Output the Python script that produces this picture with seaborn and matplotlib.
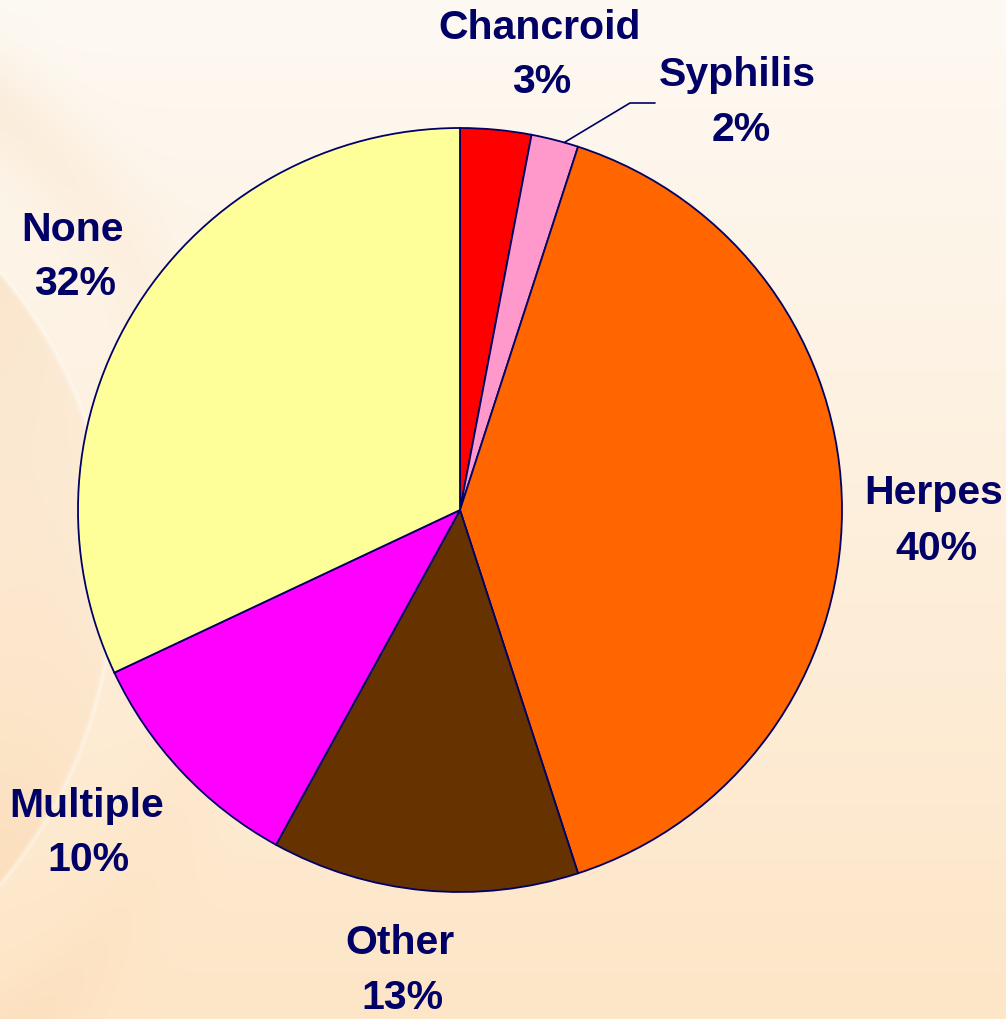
import numpy as np
import matplotlib
matplotlib.use("Agg")
import matplotlib.pyplot as plt
import seaborn as sns

# data
categories = ["Chancroid", "Syphilis", "Herpes", "Other", "Multiple", "None"]
values = [3, 2, 40, 13, 10, 32]
slice_colors = ["#FF0000", "#FF99CC", "#FF6600", "#663300", "#FF00FF", "#FFFF99"]

# label centres in pixels (name line, percent line)
label_pos = {
    "Chancroid": ((540, 28), (542, 82)),
    "Syphilis": ((737, 75), (741, 130)),
    "Herpes": ((934, 493), (936, 549)),
    "None": ((72, 230), (75, 284)),
    "Multiple": ((87, 806), (88, 860)),
    "Other": ((400, 943), (402, 998)),
}

W, H = 1006, 1019
NAVY = "#000066"

sns.set_theme(style="white")
plt.rcParams["font.family"] = ["Liberation Sans", "DejaVu Sans"]

fig = plt.figure(figsize=(W / 100, H / 100), dpi=100)

# background: cream to peach with soft arcs on the left
yy, xx = np.mgrid[0:H, 0:W].astype(float)
t = (yy / H)[..., None]
top = np.array([253, 249, 243]) / 255
bot = np.array([254, 230, 199]) / 255
bg = top * (1 - t) + bot * t
d = np.hypot(xx + 359, yy - 578)
warm = np.array([247, 208, 165]) / 255
inner = np.clip((d - 250) / 221, 0, 1) * (d < 471) * np.clip(1 - xx / 160, 0, 1)
band = np.exp(-((d - 590) / 45) ** 2) * 0.25 * np.clip(1 - xx / 260, 0, 1)
k = (0.4 * inner + band)[..., None]
bg = bg * (1 - k) + warm * k
line = np.exp(-((d - 471) / 2.5) ** 2)[..., None] * 0.35
bg = bg * (1 - line) + 1.0 * line
bgax = fig.add_axes([0, 0, 1, 1])
bgax.imshow(np.clip(bg, 0, 1), extent=[0, W, H, 0], aspect="auto")
bgax.axis("off")

# pie
cx, cy, r = 460, 510, 382
ax = fig.add_axes([(cx - r) / W, (H - cy - r) / H, 2 * r / W, 2 * r / H])
wedges, _ = ax.pie(values, colors=slice_colors, startangle=90, counterclock=False,
                   wedgeprops=dict(edgecolor=NAVY, linewidth=1.3))
ax.set_xlim(-1, 1)
ax.set_ylim(-1, 1)
ax.set_aspect("equal")
ax.axis("off")

# leader line for Syphilis
w = wedges[categories.index("Syphilis")]
ang = np.deg2rad(w.theta1 + 0.3 * (w.theta2 - w.theta1))
x0, y0 = np.cos(ang), np.sin(ang)
pts_px = [(630, 103), (655, 103)]
lx = [x0] + [(px - cx) / r for px, _ in pts_px]
ly = [y0] + [(cy - py) / r for _, py in pts_px]
ax.plot(lx, ly, color=NAVY, lw=1.2, clip_on=False)

for cat, val in zip(categories, values):
    (nx, ny), (px, py) = label_pos[cat]
    fig.text(nx / W, 1 - ny / H, cat, ha="center", va="center",
             fontsize=29.5, fontweight="bold", color=NAVY)
    fig.text(px / W, 1 - py / H, f"{val}%", ha="center", va="center",
             fontsize=29.5, fontweight="bold", color=NAVY)

fig.savefig("out.png", dpi=100)
